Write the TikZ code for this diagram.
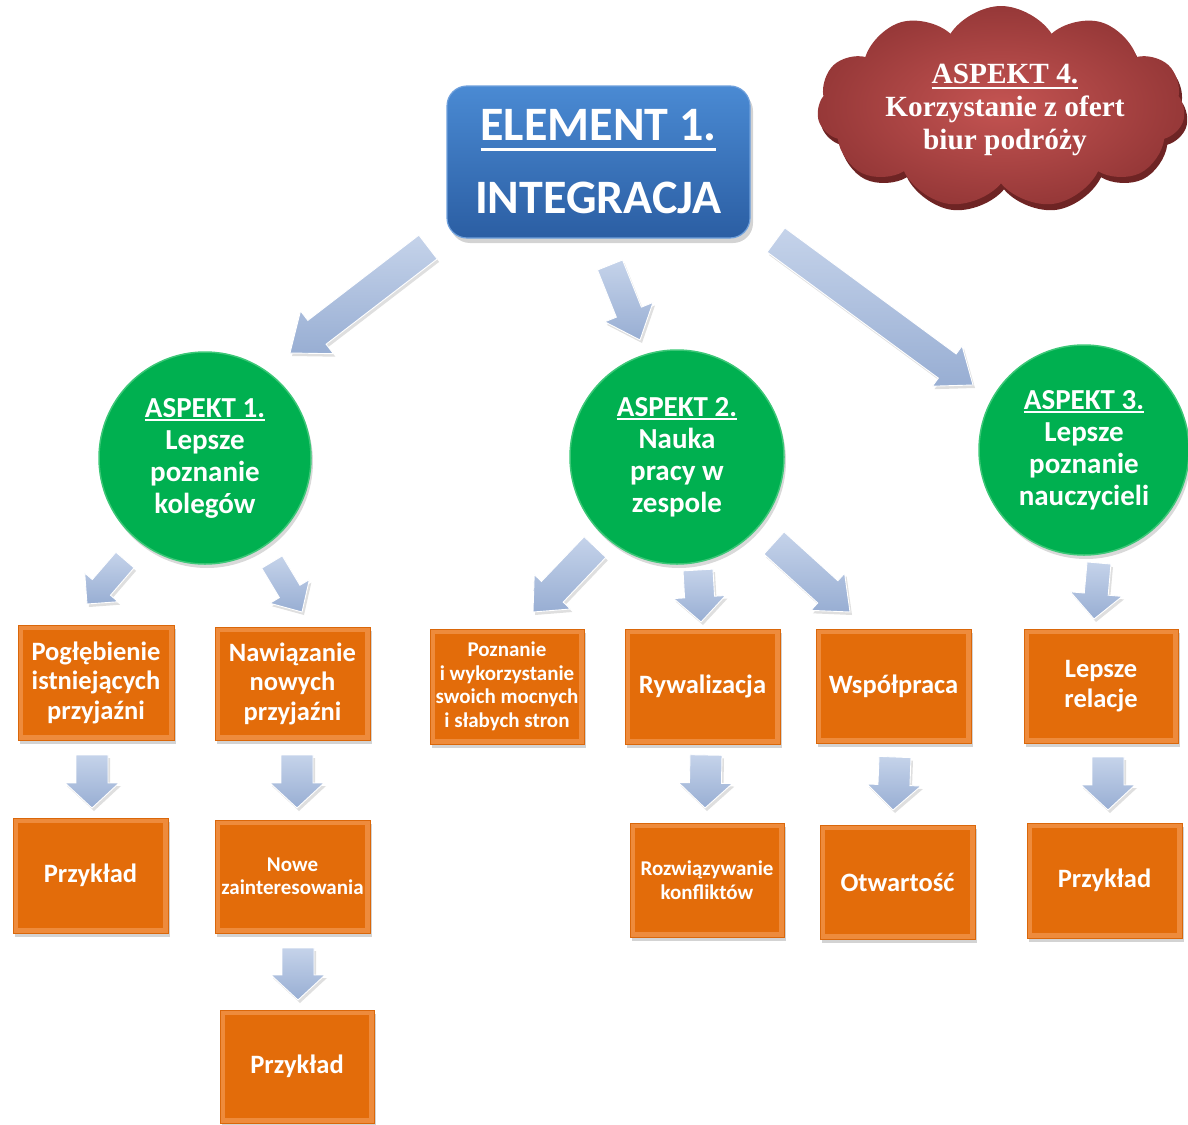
\documentclass[tikz,border=0pt]{standalone}
\usepackage{fontspec}
\setmainfont{Carlito}
\newfontfamily\serifb{Liberation Serif}
\usetikzlibrary{calc,shapes.symbols,shadows}

\definecolor{orface}{HTML}{E36C0A}
\definecolor{orrim}{HTML}{EE8B3C}
\definecolor{orline}{HTML}{DA670A}
\definecolor{grn}{HTML}{00B050}
\definecolor{grnrim}{HTML}{3CC777}
\definecolor{bltop}{HTML}{4A8AD3}
\definecolor{blbot}{HTML}{2B5EA3}
\definecolor{bledge}{HTML}{6FA0DC}
\definecolor{arrtop}{HTML}{C5D3EA}
\definecolor{arrbot}{HTML}{98AED3}
\definecolor{clin}{HTML}{C45452}
\definecolor{clout}{HTML}{963838}
\definecolor{clshadow}{HTML}{6E2424}

\newcommand\ulx[3]{\leavevmode\setbox0=\hbox{#3}\rlap{\rule[-#1]{\wd0}{#2}}\box0}
\newcommand\fbig{\fontsize{26.5}{29.5}\selectfont\bfseries}
\newcommand\fsmall{\fontsize{21}{23.5}\selectfont\bfseries}
\newcommand\fcirc{\fontsize{29}{32}\selectfont\bfseries}

\newcommand\barrow[5]{%
  \path (#1) coordinate (ba1) (#2) coordinate (ba2);
  \coordinate (bah) at ($(ba2)!#5!(ba1)$);
  \draw[blockarrow] ($(ba1)!#3!90:(ba2)$) -- ($(bah)!#3!90:(ba2)$) -- ($(bah)!#4!90:(ba2)$)
     -- (ba2) -- ($(bah)!#4!-90:(ba2)$) -- ($(bah)!#3!-90:(ba2)$) -- ($(ba1)!#3!-90:(ba2)$) -- cycle;
}

\tikzset{
  obox/.style={rectangle, minimum width=155pt, minimum height=114pt, inner sep=0pt,
    fill=orrim, draw=orline, line width=0.6pt, align=center, text=white,
    drop shadow={shadow xshift=2pt, shadow yshift=-4pt, opacity=0.35},
    path picture={\fill[orface] ([shift={(5pt,-5pt)}]path picture bounding box.north west)
      rectangle ([shift={(-5pt,5pt)}]path picture bounding box.south east);}},
  aspect circle/.style={circle, inner sep=0pt, fill=grn, draw=grnrim, line width=1.5pt,
    align=center, text=white, font=\fcirc,
    drop shadow={shadow xshift=2pt, shadow yshift=-4pt, opacity=0.3}},
  blockarrow/.style={top color=arrtop, bottom color=arrbot, draw=white, line width=0.9pt,
    drop shadow={shadow xshift=2pt, shadow yshift=-3pt, opacity=0.25}},
  lbl/.style={align=center, text=white, inner sep=0pt}
}

\begin{document}
\begin{tikzpicture}[x=1pt, y=-1pt]
\useasboundingbox (0,0) rectangle (1188,1124);

% ---- cloud (ASPEKT 4)
\node[cloud, cloud puffs=11, cloud puff arc=115, minimum width=368pt, minimum height=202pt,
  inner sep=0pt, inner color=clin, outer color=clout,
  drop shadow={shadow xshift=3pt, shadow yshift=-6pt, opacity=1, fill=clshadow}] (a4) at (1001,107) {};
\node[lbl, font=\serifb\bfseries\fontsize{29.3}{33}\selectfont] (a4t) at (1005,110)
  {\ulx{5pt}{2pt}{ASPEKT 4.}\\Korzystanie z ofert\\biur podróży};

% ---- element box
\node[rectangle, rounded corners=20pt, minimum width=303pt, minimum height=152pt,
  top color=bltop, bottom color=blbot, draw=bledge, line width=1.2pt,
  drop shadow={shadow xshift=3pt, shadow yshift=-5pt, opacity=0.35}] (el) at (598.5,162) {};
\node[lbl, font=\fontsize{48}{73}\selectfont\bfseries] (elt) at (598.5,162)
  {\ulx{10pt}{3pt}{ELEMENT 1.}\\INTEGRACJA};

% ---- aspect circles
\node[aspect circle, minimum size=212pt] (c1) at (205,458)
  {\ulx{4pt}{2pt}{ASPEKT 1.}\\Lepsze\\poznanie\\kolegów};
\node[aspect circle, minimum size=214pt] (c2) at (677,457)
  {\ulx{4pt}{2pt}{ASPEKT 2.}\\Nauka\\pracy w\\zespole};
\node[aspect circle, minimum size=210pt] (c3) at (1084,450)
  {\ulx{4pt}{2pt}{ASPEKT 3.}\\Lepsze\\poznanie\\nauczycieli};

% ---- orange boxes row 1
\node[obox, minimum width=156pt, minimum height=115pt, font=\fbig] (b1) at (96,682.5) {Pogłębienie\\istniejących\\przyjaźni};
\node[obox, minimum height=113pt, font=\fbig] (b2) at (292.5,683.5) {Nawiązanie\\nowych\\przyjaźni};
\node[obox, minimum width=154pt, minimum height=115pt, font=\fsmall] (b3) at (507,686.5) {Poznanie\\i wykorzystanie\\swoich mocnych\\i słabych stron};
\node[obox, minimum height=115pt, font=\fbig] (b4) at (702.5,686.5) {Rywalizacja};
\node[obox, font=\fbig] (b5) at (893.5,686) {Współpraca};
\node[obox, minimum width=154pt, font=\fbig] (b6) at (1101,686) {Lepsze\\relacje};

% ---- row 2
\node[obox, minimum height=115pt, font=\fbig] (b7) at (90.5,875.5) {Przykład};
\node[obox, minimum height=113pt, font=\fsmall] (b8) at (292.5,876.5) {Nowe\\zainteresowania};
\node[obox, minimum width=154pt, font=\fsmall] (b9) at (707,880) {Rozwiązywanie\\konfliktów};
\node[obox, font=\fbig] (b10) at (897.5,882) {Otwartość};
\node[obox, minimum height=115pt, font=\fbig] (b11) at (1104.5,880.5) {Przykład};

% ---- row 3
\node[obox, minimum width=154pt, minimum height=113pt, font=\fbig] (b12) at (297,1066.5) {Przykład};

% ---- block arrows
\barrow{428,247}{290,353}{15pt}{27pt}{34pt}
\barrow{610,265}{640,340}{13.5pt}{26pt}{30pt}
\barrow{776,240}{973,385}{15pt}{25pt}{32pt}

\barrow{125,560}{87,604}{12pt}{22pt}{22pt}
\barrow{272,562}{302,612}{12pt}{23pt}{24pt}

\barrow{595,547}{533,612}{15pt}{25pt}{28pt}
\barrow{698,570}{701,622}{15pt}{26pt}{25pt}
\barrow{774,543}{850,612}{15pt}{25pt}{30pt}

\barrow{1099,563}{1094,619}{12pt}{26pt}{25pt}

\barrow{92,755}{92,808}{16pt}{27pt}{25pt}
\barrow{297,755}{297,808}{16pt}{27pt}{25pt}
\barrow{706,755}{705,808}{16pt}{27pt}{25pt}
\barrow{895,757}{893,810}{16pt}{27pt}{25pt}
\barrow{1108,757}{1108,810}{16pt}{27pt}{25pt}
\barrow{298,948}{298,1000}{16pt}{27pt}{25pt}
\end{tikzpicture}
\end{document}
